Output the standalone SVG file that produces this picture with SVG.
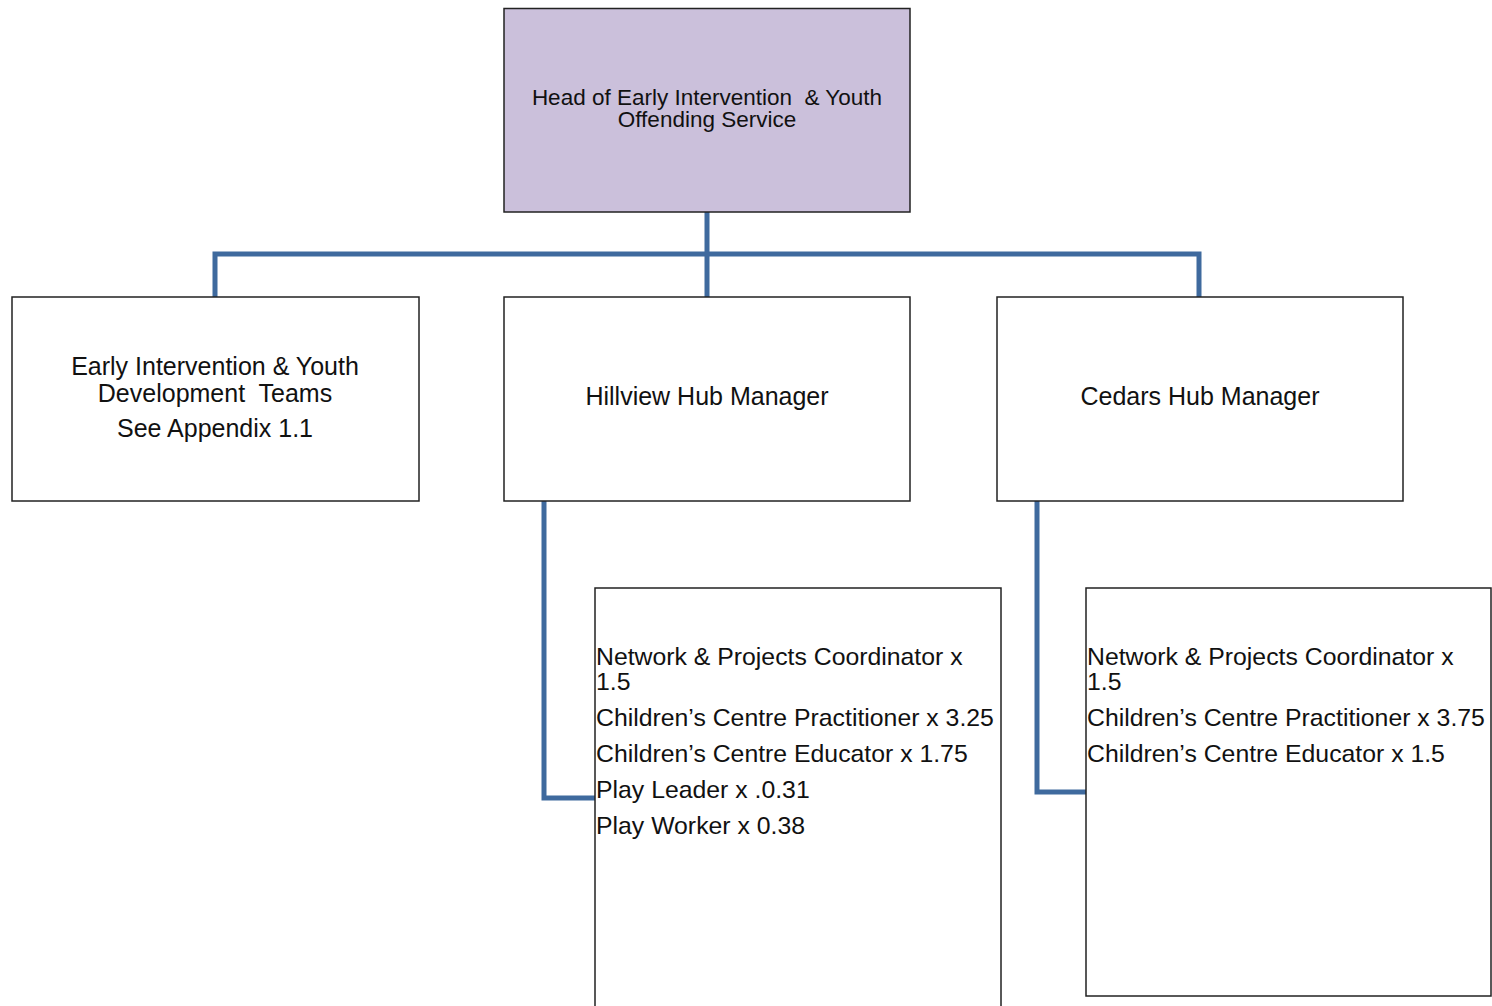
<svg xmlns="http://www.w3.org/2000/svg" width="1492" height="1006" viewBox="0 0 1492 1006">
<style>
.box{fill:#fff;stroke:#222;stroke-width:1.5}
.top{fill:#CBC0DB;stroke:#222;stroke-width:1.5}
.t{font-family:"Liberation Sans",Arial,sans-serif;fill:#111;font-size:25px}
.s{font-size:24.8px}
.c{text-anchor:middle}
.conn{fill:none;stroke:#3F6A9E;stroke-width:5}
</style>
<rect width="1492" height="1006" fill="#fff"/>
<g id="connectors">
<path class="conn" d="M707 212 V297 M215 297 V254 H1199 V297"/>
<path class="conn" d="M544 501 V798 H595"/>
<path class="conn" d="M1037 501 V792 H1086"/>
</g>
<g id="head">
<rect class="top" x="504" y="8.5" width="406" height="203.5"/>
<text class="t c" x="707" y="105" style="font-size:22.5px" xml:space="preserve">Head of Early Intervention  &amp; Youth</text>
<text class="t c" x="707" y="127" style="font-size:22.5px">Offending Service</text>
</g>
<g id="eiyd">
<rect class="box" x="12" y="297" width="407" height="204"/>
<text class="t c" x="215" y="375">Early Intervention &amp; Youth</text>
<text class="t c" x="215" y="402" xml:space="preserve">Development  Teams</text>
<text class="t c" x="215" y="437">See Appendix 1.1</text>
</g>
<g id="hillview">
<rect class="box" x="504" y="297" width="406" height="204"/>
<text class="t c" x="707" y="405">Hillview Hub Manager</text>
</g>
<g id="cedars">
<rect class="box" x="997" y="297" width="406" height="204"/>
<text class="t c" x="1200" y="405">Cedars Hub Manager</text>
</g>
<g id="hillview-staff">
<rect class="box" x="595" y="588" width="406" height="430"/>
<text class="t s" x="596" y="665">Network &amp; Projects Coordinator x</text>
<text class="t s" x="596" y="690">1.5</text>
<text class="t s" x="596" y="726">Children’s Centre Practitioner x 3.25</text>
<text class="t s" x="596" y="762">Children’s Centre Educator x 1.75</text>
<text class="t s" x="596" y="798">Play Leader x .0.31</text>
<text class="t s" x="596" y="834">Play Worker x 0.38</text>
</g>
<g id="cedars-staff">
<rect class="box" x="1086" y="588" width="405" height="408"/>
<text class="t s" x="1087" y="665">Network &amp; Projects Coordinator x</text>
<text class="t s" x="1087" y="690">1.5</text>
<text class="t s" x="1087" y="726">Children’s Centre Practitioner x 3.75</text>
<text class="t s" x="1087" y="762">Children’s Centre Educator x 1.5</text>
</g>
</svg>
